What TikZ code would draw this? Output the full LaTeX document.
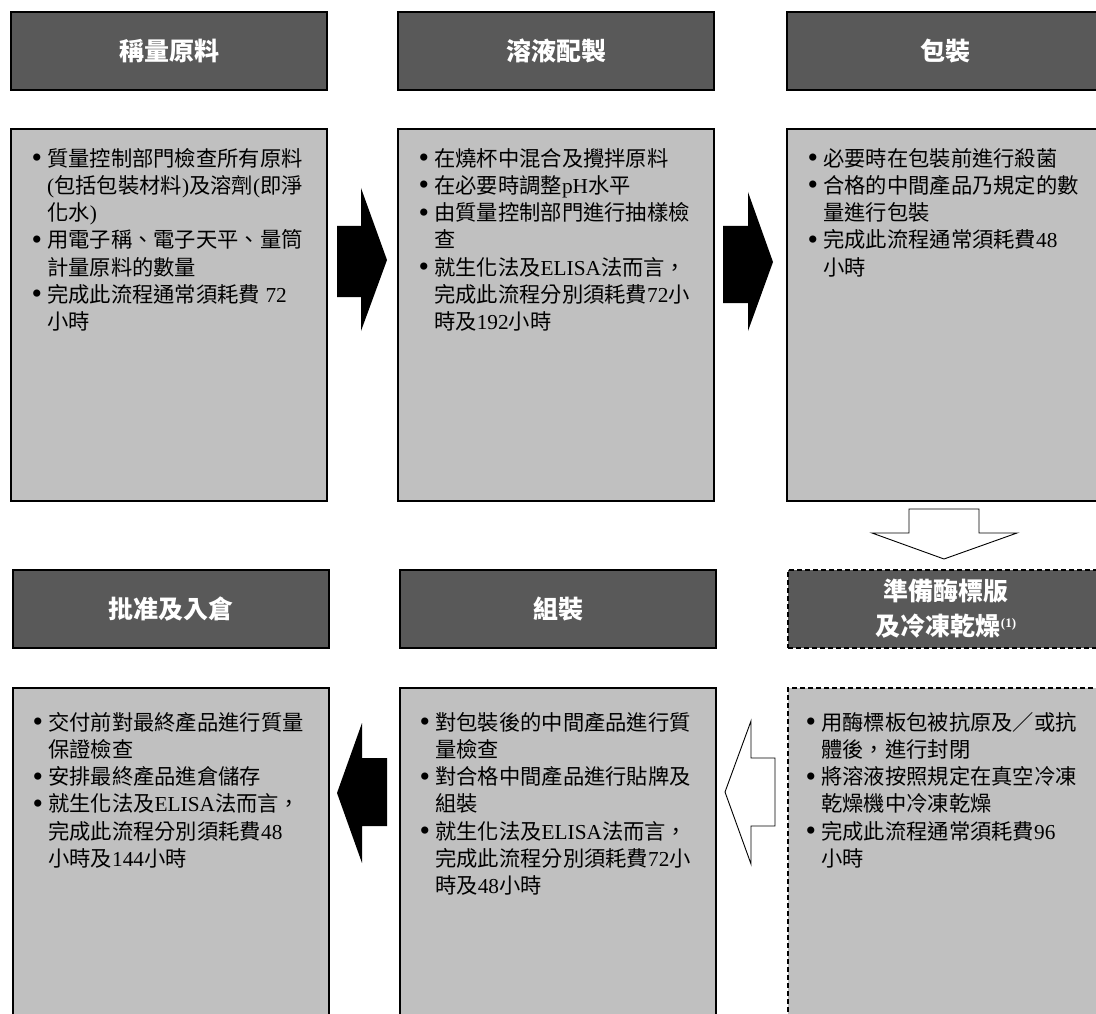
\documentclass[tikz,border=0pt]{standalone}
\usepackage{fontspec}
\setmainfont{Noto Sans CJK TC}
\newfontfamily\lat{Liberation Serif}
\definecolor{hdrgray}{HTML}{595959}
\definecolor{bodygray}{HTML}{C0C0C0}
\newcommand{\bl}{\makebox[13pt][l]{\hspace{-2.5pt}\lat\fontsize{30}{30}\selectfont\raisebox{-1.5pt}{•}}}
\newcommand{\la}[1]{{\lat #1}}
\begin{document}
\begin{tikzpicture}[x=1pt,y=-1pt,
  hdr/.style={draw=black,line width=2pt,fill=hdrgray,minimum width=316pt,minimum height=78pt,anchor=north west,inner sep=0pt,
    text=white,font=\fontsize{25}{35}\selectfont\bfseries,align=center},
  body/.style={draw=black,line width=2pt,fill=bodygray,minimum width=316pt,anchor=north west,inner sep=0pt},
  dsh/.style={dash pattern=on 5pt off 3pt},
  btext/.style={anchor=north west,inner sep=0pt,font=\fontsize{21.3}{27.2}\selectfont,text=black},
  blkarrow/.style={fill=black,draw=none},
  wharrow/.style={fill=white,draw=black,line width=0.9pt,line join=miter}]
\useasboundingbox (0,0) rectangle (1096,1014);
\fill[white] (0,0) rectangle (1096,1014);

% row 1 headers
\node[hdr] (h1) at (10,11) {稱量原料};
\node[hdr] (h2) at (397,11) {溶液配製};
\node[hdr] (h3) at (786,11) {包裝};
% row 1 bodies
\node[body,minimum height=372pt] (b1) at (10,128) {};
\node[body,minimum height=372pt] (b2) at (397,128) {};
\node[body,minimum height=372pt] (b3) at (786,128) {};
% row 2 headers
\node[hdr] (h6) at (12,569) {批准及入倉};
\node[hdr] (h5) at (399,569) {組裝};
\node[hdr,dsh] (h4) at (787,569) {準備酶標版\\及冷凍乾燥{\fontsize{13}{13}\selectfont\raisebox{8pt}{\lat\bfseries (1)}}};
% row 2 bodies
\node[body,minimum height=345pt] (b6) at (12,687) {};
\node[body,minimum height=345pt] (b5) at (399,687) {};
\node[body,dsh,minimum height=345pt] (b4) at (787,687) {};

% texts
\node[btext] (t1) at (34,147) {\begin{tabular}{@{}l@{}l@{}}
\bl & 質量控制部門檢查所有原料\\
 & \la{(}包括包裝材料\la{)}及溶劑\la{(}即淨\\
 & 化水\la{)}\\
\bl & 用電子稱、電子天平、量筒\\
 & 計量原料的數量\\
\bl & 完成此流程通常須耗費\la{ 72}\\
 & 小時
\end{tabular}};
\node[btext] (t2) at (421,147) {\begin{tabular}{@{}l@{}l@{}}
\bl & 在燒杯中混合及攪拌原料\\
\bl & 在必要時調整\la{pH}水平\\
\bl & 由質量控制部門進行抽樣檢\\
 & 查\\
\bl & 就生化法及\la{ELISA}法而言，\\
 & 完成此流程分別須耗費\la{72}小\\
 & 時及\la{192}小時
\end{tabular}};
\node[btext] (t3) at (810,147) {\begin{tabular}{@{}l@{}l@{}}
\bl & 必要時在包裝前進行殺菌\\
\bl & 合格的中間產品乃規定的數\\
 & 量進行包裝\\
\bl & 完成此流程通常須耗費\la{48}\\
 & 小時
\end{tabular}};
\node[btext] (t4) at (808,711) {\begin{tabular}{@{}l@{}l@{}}
\bl & 用酶標板包被抗原及／或抗\\
 & 體後，進行封閉\\
\bl & 將溶液按照規定在真空冷凍\\
 & 乾燥機中冷凍乾燥\\
\bl & 完成此流程通常須耗費\la{96}\\
 & 小時
\end{tabular}};
\node[btext] (t5) at (422,711) {\begin{tabular}{@{}l@{}l@{}}
\bl & 對包裝後的中間產品進行質\\
 & 量檢查\\
\bl & 對合格中間產品進行貼牌及\\
 & 組裝\\
\bl & 就生化法及\la{ELISA}法而言，\\
 & 完成此流程分別須耗費\la{72}小\\
 & 時及\la{48}小時
\end{tabular}};
\node[btext] (t6) at (35,711) {\begin{tabular}{@{}l@{}l@{}}
\bl & 交付前對最終產品進行質量\\
 & 保證檢查\\
\bl & 安排最終產品進倉儲存\\
\bl & 就生化法及\la{ELISA}法而言，\\
 & 完成此流程分別須耗費\la{48}\\
 & 小時及\la{144}小時
\end{tabular}};

% block arrows
\fill[blkarrow] (337,226) -- (361,226) -- (361,188) -- (387,260) -- (361,331) -- (361,297) -- (337,297) -- cycle;
\fill[blkarrow] (723,226) -- (748,226) -- (748,192) -- (773,262) -- (748,331) -- (748,303) -- (723,303) -- cycle;
\draw[wharrow] (909,509) -- (979,509) -- (979,533) -- (1017,533) -- (944,559) -- (872,533) -- (909,533) -- cycle;
\draw[wharrow] (775,758) -- (751,758) -- (751,721) -- (725,792) -- (751,864) -- (751,826) -- (775,826) -- cycle;
\fill[blkarrow] (387,758) -- (362,758) -- (362,723) -- (337,793) -- (362,863) -- (362,826) -- (387,826) -- cycle;
\end{tikzpicture}
\end{document}
